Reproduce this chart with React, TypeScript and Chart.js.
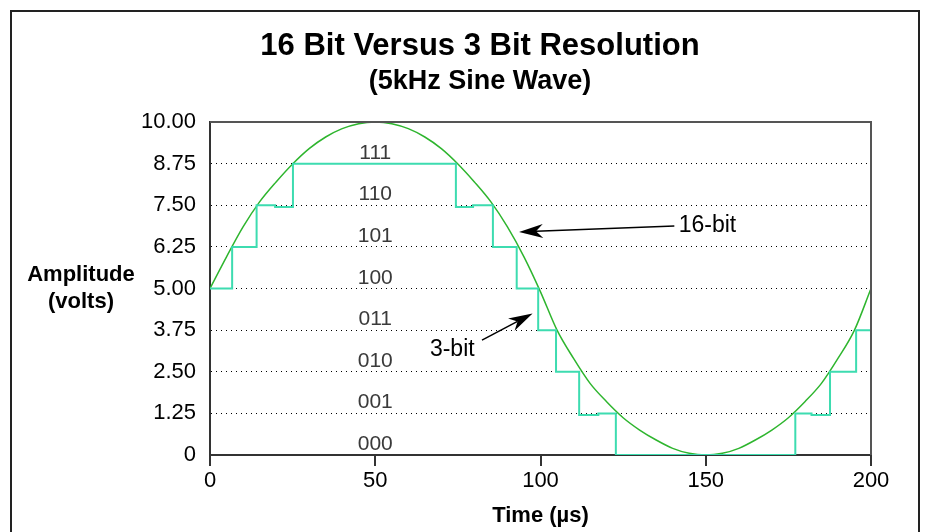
import React, { useEffect, useRef } from "react";
import { Chart, registerables } from "chart.js";

Chart.register(...registerables);

const titleText = "16 Bit Versus 3 Bit Resolution";
const subtitleText = "(5kHz Sine Wave)";
const xAxisTitle = "Time (\u00b5s)";
const yAxisTitleLines = ["Amplitude", "(volts)"];

const xTickValues = [0, 50, 100, 150, 200];
const xTickLabels = ["0", "50", "100", "150", "200"];
const yTickValues = [0, 1.25, 2.5, 3.75, 5, 6.25, 7.5, 8.75, 10];
const yTickLabels = ["0", "1.25", "2.50", "3.75", "5.00", "6.25", "7.50", "8.75", "10.00"];

const levelCodes = ["000", "001", "010", "011", "100", "101", "110", "111"];
const levelBases = [0, 1.25, 2.5, 3.75, 5, 6.25, 7.5, 8.75];
const levelCodeTime = 50;

// 16-bit trace, every 5 µs
const wave16Time = [
  0, 5, 10, 15, 20, 25, 30, 35, 40, 45, 50, 55, 60, 65, 70, 75, 80, 85, 90, 95,
  100, 105, 110, 115, 120, 125, 130, 135, 140, 145, 150, 155, 160, 165, 170, 175, 180, 185, 190, 195, 200,
];
const wave16Volts = [
  5.0, 5.95, 6.85, 7.6, 8.2, 8.74, 9.2, 9.55, 9.8, 9.95, 10.0, 9.95, 9.8, 9.55, 9.2, 8.74, 8.2, 7.6, 6.85, 5.95,
  4.9, 3.75, 2.9, 2.15, 1.6, 1.12, 0.75, 0.45, 0.2, 0.05, 0.0, 0.05, 0.2, 0.45, 0.75, 1.12, 1.6, 2.15, 2.9, 3.75, 5.0,
];

// 3-bit quantized trace
const wave3Time = [0, 6.7, 14.1, 19.7, 25.1, 74.4, 79.6, 85.6, 92.8, 99.3, 104.7, 111.7, 117.5, 122.8, 177.1, 182, 187.6, 195.5, 200];
const wave3Volts = [5, 6.25, 7.5, 7.45, 8.75, 7.45, 7.5, 6.25, 5, 3.75, 2.5, 1.2, 1.25, 0, 1.25, 1.2, 2.5, 3.75, 5];

// annotations in data coordinates
const annotations = [
  { text: "16-bit", textX: 141.8, textY: 6.88, align: "left", tailX: 140.5, tailY: 6.88, tipX: 93.5, tipY: 6.7 },
  { text: "3-bit", textX: 73.3, textY: 3.15, align: "center", tailX: 82.3, tailY: 3.45, tipX: 97.6, tipY: 4.25 },
];

const FONT = "'Liberation Sans', Arial, Helvetica, sans-serif";
const SINE_COLOR = "#2eb52e";
const STEP_COLOR = "#3ddcb0";

export default function App() {
  const ref = useRef<HTMLCanvasElement>(null);

  useEffect(() => {
    document.body.style.margin = "0";
    const canvas = ref.current;
    if (!canvas) return;

    const overlay = {
      id: "overlay",
      beforeDatasetsDraw(chart: any) {
        const { ctx } = chart;
        const xs = chart.scales.x;
        const ys = chart.scales.y;
        ctx.save();
        ctx.font = `21px ${FONT}`;
        ctx.fillStyle = "#3a3a3a";
        ctx.textAlign = "center";
        ctx.textBaseline = "alphabetic";
        levelCodes.forEach((code, i) => {
          const px = xs.getPixelForValue(levelCodeTime);
          const py = ys.getPixelForValue(levelBases[i]) - 5;
          ctx.fillText(code, px, py);
        });
        ctx.restore();
      },
      afterDatasetsDraw(chart: any) {
        const { ctx, chartArea: a } = chart;
        const xs = chart.scales.x;
        const ys = chart.scales.y;
        ctx.save();
        // chart area frame (top/right)
        ctx.strokeStyle = "#555";
        ctx.lineWidth = 2;
        ctx.beginPath();
        ctx.moveTo(a.left, a.top);
        ctx.lineTo(a.right, a.top);
        ctx.lineTo(a.right, a.bottom);
        ctx.stroke();

        annotations.forEach((an) => {
          const tx = xs.getPixelForValue(an.tailX);
          const ty = ys.getPixelForValue(an.tailY);
          const hx = xs.getPixelForValue(an.tipX);
          const hy = ys.getPixelForValue(an.tipY);
          const dx = hx - tx;
          const dy = hy - ty;
          const len = Math.hypot(dx, dy);
          const ux = dx / len;
          const uy = dy / len;
          const nx = -uy;
          const ny = ux;
          const L = 24;
          const W = 7;
          const notch = 7;
          ctx.strokeStyle = "#000";
          ctx.lineWidth = 1.5;
          ctx.beginPath();
          ctx.moveTo(tx, ty);
          ctx.lineTo(hx - ux * (L - notch), hy - uy * (L - notch));
          ctx.stroke();
          ctx.fillStyle = "#000";
          ctx.beginPath();
          ctx.moveTo(hx, hy);
          ctx.lineTo(hx - ux * L + nx * W, hy - uy * L + ny * W);
          ctx.lineTo(hx - ux * (L - notch), hy - uy * (L - notch));
          ctx.lineTo(hx - ux * L - nx * W, hy - uy * L - ny * W);
          ctx.closePath();
          ctx.fill();

          ctx.font = `23px ${FONT}`;
          ctx.textAlign = an.align as CanvasTextAlign;
          ctx.textBaseline = "middle";
          ctx.fillText(an.text, xs.getPixelForValue(an.textX), ys.getPixelForValue(an.textY));
        });
        ctx.restore();
      },
      afterDraw(chart: any) {
        const { ctx, chartArea: a } = chart;
        ctx.save();
        // outer frame
        ctx.strokeStyle = "#222";
        ctx.lineWidth = 2;
        ctx.beginPath();
        ctx.moveTo(11, chart.height);
        ctx.lineTo(11, 11);
        ctx.lineTo(919, 11);
        ctx.lineTo(919, chart.height);
        ctx.stroke();
        // titles
        ctx.fillStyle = "#000";
        ctx.textAlign = "center";
        ctx.textBaseline = "middle";
        ctx.font = `bold 31px ${FONT}`;
        ctx.fillText(titleText, 480, 46);
        ctx.font = `bold 27px ${FONT}`;
        ctx.fillText(subtitleText, 480, 82);
        // y axis title (horizontal, two lines)
        ctx.font = `bold 22px ${FONT}`;
        ctx.textBaseline = "alphabetic";
        const cx = a.left - 129;
        const cy = (a.top + a.bottom) / 2;
        ctx.fillText(yAxisTitleLines[0], cx, cy - 8);
        ctx.fillText(yAxisTitleLines[1], cx, cy + 19);
        ctx.restore();
      },
    };

    const chart = new Chart(canvas, {
      type: "line",
      data: {
        datasets: [
          {
            label: "3-bit",
            data: wave3Time.map((x, i) => ({ x, y: wave3Volts[i] })),
            stepped: true,
            borderColor: STEP_COLOR,
            borderWidth: 2,
            pointRadius: 0,
            fill: false,
          },
          {
            label: "16-bit",
            data: wave16Time.map((x, i) => ({ x, y: wave16Volts[i] })),
            cubicInterpolationMode: "monotone",
            borderColor: SINE_COLOR,
            borderWidth: 1.5,
            pointRadius: 0,
            fill: false,
          },
        ],
      },
      options: {
        responsive: false,
        animation: false,
        events: [],
        layout: { padding: { left: 0, right: 55, top: 122, bottom: 0 } },
        plugins: {
          legend: { display: false },
          tooltip: { enabled: false },
          title: { display: false },
        },
        scales: {
          x: {
            type: "linear",
            min: 0,
            max: 200,
            afterBuildTicks: (s: any) => {
              s.ticks = xTickValues.map((v) => ({ value: v }));
            },
            afterFit: (s: any) => {
              s.height = 77;
            },
            ticks: {
              callback: (_v: any, i: number) => xTickLabels[i],
              color: "#000",
              font: { family: FONT, size: 22 },
              padding: 2,
              maxRotation: 0,
              autoSkip: false,
            },
            grid: { drawOnChartArea: false, drawTicks: true, tickLength: 11, color: "#333", lineWidth: 2 },
            border: { display: true, color: "#333", width: 2 },
            title: {
              display: true,
              text: xAxisTitle,
              color: "#000",
              font: { family: FONT, size: 22, weight: "bold", lineHeight: 1.2 },
              padding: { top: 0, bottom: 3 },
            },
          },
          y: {
            type: "linear",
            min: 0,
            max: 10,
            afterBuildTicks: (s: any) => {
              s.ticks = yTickValues.map((v) => ({ value: v }));
            },
            afterFit: (s: any) => {
              s.width = 210;
            },
            ticks: {
              callback: (_v: any, i: number) => yTickLabels[i],
              color: "#000",
              font: { family: FONT, size: 22 },
              padding: 14,
              autoSkip: false,
            },
            grid: {
              drawTicks: false,
              lineWidth: 1,
              color: (c: any) =>
                c.tick && (c.tick.value === 0 || c.tick.value === 10) ? "rgba(0,0,0,0)" : "#000",
            },
            border: { display: true, color: "#333", width: 2, dash: [1, 4] },
          },
        },
      } as any,
      plugins: [overlay],
    });

    return () => chart.destroy();
  }, []);

  return <canvas ref={ref} width={926} height={532} style={{ display: "block" }} />;
}
